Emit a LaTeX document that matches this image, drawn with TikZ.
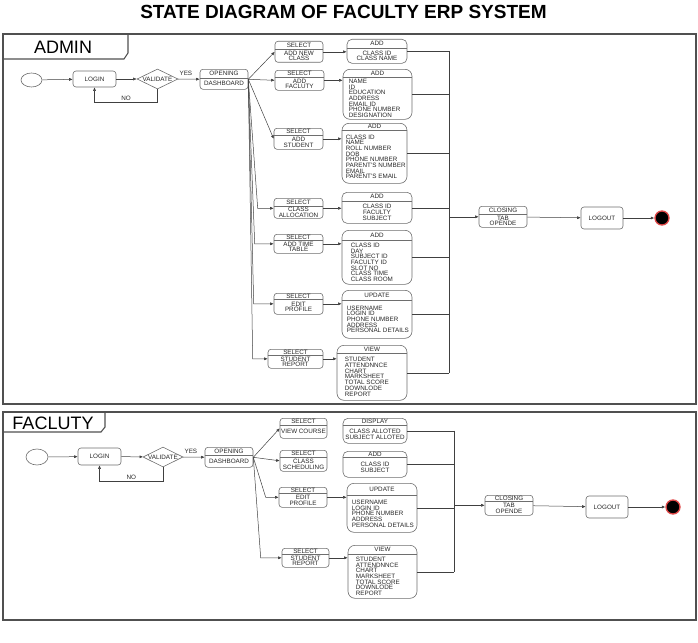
\documentclass[tikz,border=0pt]{standalone}
\usepackage{fontspec}
\setmainfont{Liberation Sans}
\usepackage{xcolor}
\usetikzlibrary{positioning,arrows.meta,shapes.geometric,calc}
\definecolor{edgegray}{HTML}{404040}
\definecolor{rimgray}{HTML}{6E6E6E}
\definecolor{framegray}{HTML}{505050}
\definecolor{ink}{HTML}{262626}
\definecolor{endred}{HTML}{E04848}
\tikzset{
  lbl/.style={font=\fontsize{6.3}{5.7}\selectfont,text=ink,inner sep=0pt},
  sbox/.style={draw=rimgray,rounded corners=3pt,fill=white,inner sep=0pt,line width=0.6pt},
  mbox/.style={draw=rimgray,rounded corners=5pt,fill=white,inner sep=0pt,line width=0.6pt},
  lbox/.style={draw=rimgray,rounded corners=7pt,fill=white,inner sep=0pt,line width=0.6pt},
  plain/.style={draw=rimgray,rounded corners=3pt,fill=white,inner sep=0pt,line width=0.6pt,lbl},
  start/.style={draw=rimgray,ellipse,fill=white,inner sep=0pt,line width=0.6pt},
  choice/.style={draw=rimgray,diamond,aspect=2,fill=white,inner sep=0pt,line width=0.6pt},
  stop/.style={circle,fill=black,draw=endred,line width=1.3pt,minimum size=14pt,inner sep=0pt},
  divider/.style={draw=rimgray,line width=0.6pt},
  wire/.style={draw=edgegray,line width=0.5pt},
  arr/.style={wire,-{Latex[length=3.5pt,width=3pt]}},
  frame/.style={draw=framegray,line width=1.1pt},
  tab/.style={font=\fontsize{18}{18}\selectfont,inner sep=0pt}
}

\begin{document}
\begin{tikzpicture}[x=1pt,y=-1pt]
  \useasboundingbox (0,0) rectangle (698,642);

  % title and the two swimlane frames
  \node[font=\bfseries\fontsize{19}{19}\selectfont,inner sep=0pt] (title) at (343.5,12) {STATE DIAGRAM OF FACULTY ERP SYSTEM};
  \draw[frame] (3,34) rectangle (696,404);
  \draw[frame] (3,59) -- (124,59) -- (128,53) -- (128,34);
  \node[tab] (admin) at (63,47.5) {ADMIN};
  \draw[frame] (3,412) rectangle (696,620);
  \draw[frame] (3,432) -- (101,432) -- (105,427) -- (105,412);
  \node[tab] (faculty) at (53,423) {FACLUTY};

  % simple states
  \node[start,minimum width=21pt,minimum height=14pt] (aStart) at (31.5,80) {};
  \node[plain,minimum width=43pt,minimum height=16pt] (aLogin) at (94.5,79) {LOGIN};
  \node[choice,minimum width=41pt,minimum height=20pt,label={[lbl]center:VALIDATE}] (aValid) at (157.5,79) {};
  \node[plain,minimum width=42pt,minimum height=22pt] (aLogout) at (602,218) {LOGOUT};
  \node[stop] (aEnd) at (662,218) {};
  \node[start,minimum width=22pt,minimum height=16pt] (fStart) at (37,457) {};
  \node[plain,minimum width=43pt,minimum height=17pt] (fLogin) at (99.5,456.5) {LOGIN};
  \node[choice,minimum width=40pt,minimum height=20pt,label={[lbl]center:VALIDATE}] (fValid) at (163,457) {};
  \node[plain,minimum width=42pt,minimum height=22pt] (fLogout) at (607,507) {LOGOUT};
  \node[stop] (fEnd) at (673,507) {};

  % split states, body centred
  \foreach \s/\n/\x/\t/\w/\h/\d/\hd/\bd in {
    sbox/aDash/224/69/48/20/9/OPENING/{DASHBOARD},
    sbox/aSel1/299/41/48/21/8/SELECT/{ADD NEW\\CLASS},
    sbox/aSel2/299.5/70/49/20/7/SELECT/{ADD\\FACLUTY},
    sbox/aSel3/298.5/128/49/21/7/SELECT/{ADD\\STUDENT},
    sbox/aSel4/298.5/198/49/20/8/SELECT/{CLASS\\ALLOCATION},
    sbox/aSel5/298.5/234/49/19/6/SELECT/{ADD TIME\\TABLE},
    sbox/aSel6/298.5/293/49/21/6/SELECT/{EDIT\\PROFILE},
    sbox/aSel7/295.5/349/55/19/6/SELECT/{STUDENT\\REPORT},
    mbox/aAdd1/377/39/60/24/9/ADD/{CLASS ID\\CLASS NAME},
    mbox/aAdd4/377/192/70/31/9/ADD/{CLASS ID\\FACULTY\\SUBJECT},
    sbox/aClose/503/206/48/21/8/CLOSING/{TAB\\OPENDE},
    sbox/fDash/229/447/48/20/8/OPENING/{DASHBOARD},
    sbox/fSel1/303.5/418/47/20/7/SELECT/{VIEW COURSE},
    sbox/fSel2/303.5/450/47/21/7/SELECT/{CLASS\\SCHEDULING},
    sbox/fSel3/303/487/48/20/6/SELECT/{EDIT\\PROFILE},
    sbox/fSel4/305.5/548/47/19/6/SELECT/{STUDENT\\REPORT},
    mbox/fDisp/375/418/64/25/7/DISPLAY/{CLASS ALLOTED\\SUBJECT ALLOTED},
    mbox/fAdd/375/451/64/26/6/ADD/{CLASS ID\\SUBJECT},
    sbox/fClose/509/495/48/20/6/CLOSING/{TAB\\OPENDE}%
  }{
    \node[\s,minimum width=\w pt,minimum height=\h pt,anchor=north] (\n) at (\x,\t) {};
    \draw[divider] ([yshift=-\d]\n.north west) -- ([yshift=-\d]\n.north east);
    \node[lbl] at ([yshift=-0.5*\d]\n.north) {\hd};
    \node[lbl,align=center] at ($([yshift=-\d]\n.north)!0.5!(\n.south)$) {\bd};
  }

  % split states, body as a list
  \foreach \n/\x/\t/\w/\h/\d/\o/\hd/\bd in {
    aAdd2/377.5/69/69/50/8/6/ADD/{NAME\\ID\\EDUCATION\\ADDRESS\\EMAIL ID\\PHONE NUMBER\\DESIGNATION},
    aAdd3/374.5/123/65/60/7/4/ADD/{CLASS ID\\NAME\\ROLL NUMBER\\DOB\\PHONE NUMBER\\PARENT'S NUMBER\\EMAIL\\PARENT'S EMAIL},
    aAdd5/377/230/70/54/10/9/ADD/{CLASS ID\\DAY\\SUBJECT ID\\FACULTY ID\\SLOT NO\\CLASS TIME\\CLASS ROOM},
    aUpd/377/290/70/48/10/5/UPDATE/{USERNAME\\LOGIN ID\\PHONE NUMBER\\ADDRESS\\PERSONAL DETAILS},
    aView/372/345/70/55/8/8/VIEW/{STUDENT\\ATTENDNNCE\\CHART\\MARKSHEET\\TOTAL SCORE\\DOWNLODE\\REPORT},
    fUpd/382/483/70/49/12/5/UPDATE/{USERNAME\\LOGIN ID\\PHONE NUMBER\\ADDRESS\\PERSONAL DETAILS},
    fView/382.5/545/69/53/9/8/VIEW/{STUDENT\\ATTENDNNCE\\CHART\\MARKSHEET\\TOTAL SCORE\\DOWNLODE\\REPORT}%
  }{
    \node[lbox,minimum width=\w pt,minimum height=\h pt,anchor=north] (\n) at (\x,\t) {};
    \draw[divider] ([yshift=-\d]\n.north west) -- ([yshift=-\d]\n.north east);
    \node[lbl] at ([yshift=-0.5*\d]\n.north) {\hd};
    \node[lbl,align=left,anchor=west,xshift=\o] at ($([yshift=-\d]\n.north west)!0.5!(\n.south west)$) {\bd};
  }

  % admin flow
  \draw[arr] (aStart) -- (aLogin);
  \draw[arr] (aLogin) -- (aValid);
  \draw[arr] (aValid) -- node[lbl,above=3pt,pos=0.36]{YES} (aDash);
  \draw[arr] (aValid.south) -- ++(0,13) -| node[lbl,above=1.5pt,pos=0.25]{NO} (aLogin.south);
  \foreach \s in {aSel1,aSel2,aSel3}
    \draw[arr] (aDash.east) -- (\s.west);
  \foreach \s/\k in {aSel4/16,aSel5/19,aSel6/20,aSel7/15}
    \draw[arr] (aDash.east) -- ([xshift=-\k]\s.west) -- (\s.west);
  \foreach \a/\b in {aSel1/aAdd1,aSel2/aAdd2,aSel3/aAdd3,aSel4/aAdd4,aSel5/aAdd5,aSel6/aUpd,aSel7/aView}
    \draw[arr] (\a.east) -- (\a.east -| \b.west);
  \coordinate (aBusTop) at (449,51);
  \coordinate (aBusBot) at (449,372.5);
  \foreach \b in {aAdd1,aAdd2,aAdd3,aAdd4,aAdd5,aUpd,aView}
    \draw[wire] (\b.east) -- (\b.east -| aBusTop);
  \draw[wire] (aBusTop) -- (aBusBot);
  \draw[arr] (aBusTop |- aClose) -- (aClose);
  \draw[arr] (aClose) -- (aLogout);
  \draw[arr] (aLogout) -- (aEnd);

  % faculty flow
  \draw[arr] (fStart) -- (fLogin);
  \draw[arr] (fLogin) -- (fValid);
  \draw[arr] (fValid) -- node[lbl,above=3pt,pos=0.36]{YES} (fDash);
  \draw[arr] (fValid.south) -- ++(0,14) -| node[lbl,above=1.5pt,pos=0.25]{NO} (fLogin.south);
  \foreach \s in {fSel1,fSel2}
    \draw[arr] (fDash.east) -- (\s.west);
  \foreach \s/\k in {fSel3/13,fSel4/21}
    \draw[arr] (fDash.east) -- ([xshift=-\k]\s.west) -- (\s.west);
  \foreach \a/\b in {fSel3/fUpd,fSel4/fView}
    \draw[arr] (\a.east) -- (\a.east -| \b.west);
  \coordinate (fBusTop) at (454,430.5);
  \coordinate (fBusBot) at (454,571.5);
  \foreach \b in {fDisp,fAdd,fUpd,fView}
    \draw[wire] (\b.east) -- (\b.east -| fBusTop);
  \draw[wire] (fBusTop) -- (fBusBot);
  \draw[arr] (fBusTop |- fClose) -- (fClose);
  \draw[arr] (fClose) -- (fLogout);
  \draw[arr] (fLogout) -- (fEnd);
\end{tikzpicture}
\end{document}
